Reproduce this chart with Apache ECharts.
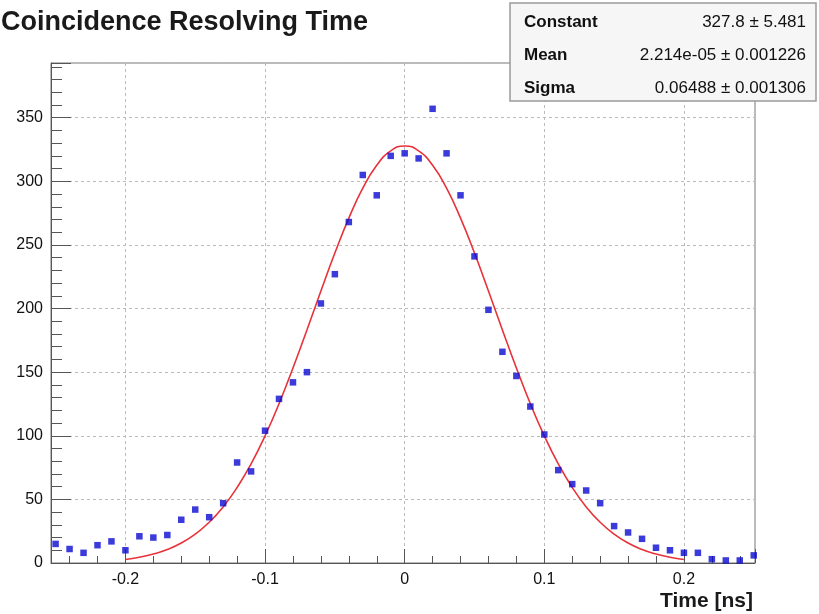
<!DOCTYPE html>
<html>
<head>
<meta charset="utf-8">
<script src="https://cdn.jsdelivr.net/npm/echarts@6/dist/echarts.min.js"></script>
<style>
  html, body { margin: 0; padding: 0; background: #fff; }
  #chart { width: 819px; height: 614px; }
</style>
</head>
<body>
<div id="chart"></div>
<script>
// histogram bin centers (ns) and counts
var times = [-0.25, -0.24, -0.23, -0.22, -0.21, -0.20, -0.19, -0.18, -0.17, -0.16,
	-0.15, -0.14, -0.13, -0.12, -0.11, -0.10, -0.09, -0.08, -0.07, -0.06,
	-0.05, -0.04, -0.03, -0.02, -0.01, 0.00, 0.01, 0.02, 0.03, 0.04,
	0.05, 0.06, 0.07, 0.08, 0.09, 0.10, 0.11, 0.12, 0.13, 0.14,
	0.15, 0.16, 0.17, 0.18, 0.19, 0.20, 0.21, 0.22, 0.23, 0.24, 0.25];
var counts = [15, 11, 8, 14, 17, 10, 21, 20, 22, 34,
	42, 36, 47, 79, 72, 104, 129, 142, 150, 204,
	227, 268, 305, 289, 320, 322, 318, 357, 322, 289,
	241, 199, 166, 147, 123, 101, 73, 62, 57, 47,
	29, 24, 19, 12, 10, 8, 8, 3, 2, 2, 6];

// gaussian fit curve
var fitTimes = [-0.20, -0.19, -0.18, -0.17, -0.16, -0.15, -0.14, -0.13, -0.12, -0.11,
	-0.10, -0.09, -0.08, -0.07, -0.06, -0.05, -0.04, -0.03, -0.02, -0.01,
	0.00, 0.01, 0.02, 0.03, 0.04, 0.05, 0.06, 0.07, 0.08, 0.09,
	0.10, 0.11, 0.12, 0.13, 0.14, 0.15, 0.16, 0.17, 0.18, 0.19, 0.20];
var fitValues = [2.8, 4.5, 7.0, 10.6, 15.7, 22.7, 32.0, 44.1, 59.3, 77.9,
	99.9, 125.2, 153.3, 183.2, 213.8, 243.6, 271.1, 294.6, 312.6, 323.9,
	327.8, 323.9, 312.6, 294.6, 271.1, 243.6, 213.8, 183.2, 153.3, 125.2,
	99.9, 77.9, 59.3, 44.1, 32.0, 22.7, 15.7, 10.6, 7.0, 4.5, 2.8];

// fit results box
var statNames = ['Constant', 'Mean', 'Sigma'];
var statValues = ['327.8 \u00b1 5.481', '2.214e-05 \u00b1 0.001226', '0.06488 \u00b1 0.001306'];

var myChart = echarts.init(document.getElementById('chart'));
var font = 'Liberation Sans, Arial, Helvetica, sans-serif';

var points = [];
for (var i = 0; i < times.length; i++) {
	points.push([times[i], counts[i]]);
}
var fitLine = [];
for (var j = 0; j < fitTimes.length; j++) {
	fitLine.push([fitTimes[j], fitValues[j]]);
}

var statGraphics = [{
	type: 'rect',
	z: 100,
	shape: { x: 510, y: 3, width: 306, height: 98 },
	style: { fill: '#f6f6f6', stroke: '#9a9a9a', lineWidth: 1.5 }
}];
for (var k = 0; k < statNames.length; k++) {
	statGraphics.push({
		type: 'text',
		z: 101,
		x: 524,
		y: 22 + k * 33,
		style: {
			text: statNames[k],
			font: 'bold 17px ' + font,
			fill: '#111',
			verticalAlign: 'middle',
			align: 'left'
		}
	});
	statGraphics.push({
		type: 'text',
		z: 101,
		x: 806,
		y: 22 + k * 33,
		style: {
			text: statValues[k],
			font: '17px ' + font,
			fill: '#111',
			verticalAlign: 'middle',
			align: 'right'
		}
	});
}
statGraphics.push({
	type: 'text',
	x: 753,
	y: 601,
	style: {
		text: 'Time [ns]',
		font: 'bold 21px ' + font,
		fill: '#1a1a1a',
		verticalAlign: 'middle',
		align: 'right'
	}
});

var option = {
	animation: false,
	backgroundColor: '#ffffff',
	title: {
		text: 'Coincidence Resolving Time',
		left: -4,
		top: 4,
		textStyle: {
			fontFamily: font,
			fontSize: 27,
			fontWeight: 'bold',
			color: '#1a1a1a'
		}
	},
	grid: {
		left: 51,
		right: 64,
		top: 63,
		bottom: 51,
		show: true,
		borderColor: '#777',
		borderWidth: 1,
		backgroundColor: '#fff'
	},
	xAxis: {
		type: 'value',
		min: -0.2533,
		max: 0.2509,
		splitNumber: 5,
		axisLine: { onZero: false, lineStyle: { color: '#555', width: 1 } },
		axisTick: { inside: true, length: 14, lineStyle: { color: '#555' } },
		minorTick: { show: true, splitNumber: 5, length: 7, lineStyle: { color: '#555' } },
		splitLine: { show: true, lineStyle: { color: '#bbb', type: [3, 3] } },
		axisLabel: {
			margin: 9,
			showMinLabel: false,
			showMaxLabel: false,
			fontFamily: font,
			fontSize: 16,
			color: '#111'
		}
	},
	yAxis: {
		type: 'value',
		min: 0,
		max: 393,
		interval: 50,
		axisLine: { show: true, onZero: false, lineStyle: { color: '#555', width: 1 } },
		axisTick: { show: true, inside: true, length: 20, lineStyle: { color: '#555' } },
		minorTick: { show: true, splitNumber: 5, length: 11, lineStyle: { color: '#555' } },
		splitLine: { show: true, lineStyle: { color: '#bbb', type: [3, 3] } },
		axisLabel: {
			margin: 8,
			showMaxLabel: false,
			fontFamily: font,
			fontSize: 16,
			color: '#111'
		}
	},
	series: [{
		name: 'fit',
		type: 'line',
		data: fitLine,
		smooth: true,
		showSymbol: false,
		lineStyle: { color: '#e8323a', width: 1.6 },
		z: 2
	}, {
		name: 'data',
		type: 'scatter',
		data: points,
		symbol: 'rect',
		symbolSize: 6.5,
		itemStyle: { color: '#0a0ad2' },
		z: 3
	}],
	graphic: statGraphics
};

myChart.setOption(option);
</script>
</body>
</html>
